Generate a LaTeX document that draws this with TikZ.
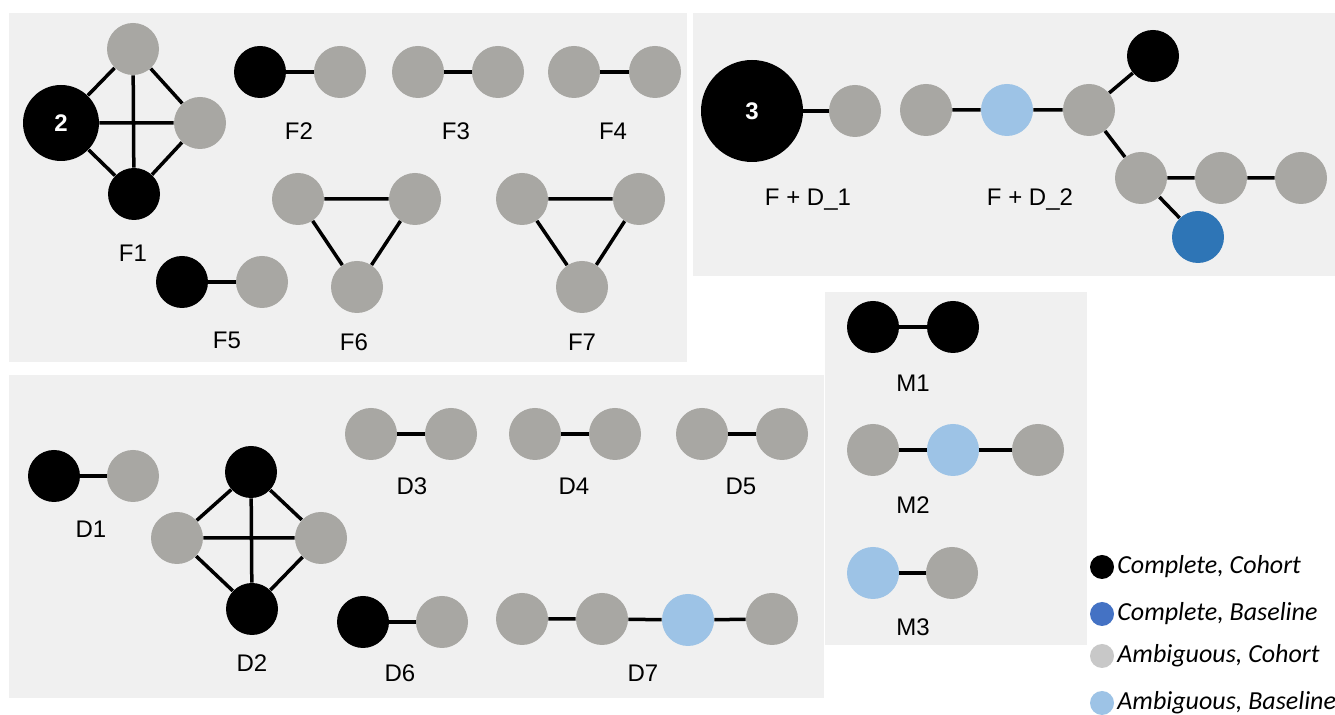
\documentclass[tikz,border=0pt]{standalone}
\usepackage{fontspec}
\setmainfont{Liberation Sans}
\newfontfamily\legfont{Carlito}
\definecolor{panelbg}{HTML}{F0F0F0}
\definecolor{ngray}{HTML}{A8A7A3}
\definecolor{lblue}{HTML}{9DC3E6}
\definecolor{dblue}{HTML}{2E75B6}
\definecolor{legblue}{HTML}{4472C4}
\definecolor{leggray}{HTML}{C8C8C8}
\begin{document}
\begin{tikzpicture}[x=0.5pt,y=-0.5pt,
  nd/.style={circle,minimum size=26pt,inner sep=0pt},
  blk/.style={nd,fill=black},
  gry/.style={nd,fill=ngray},
  lbl/.style={nd,fill=lblue},
  dbl/.style={nd,fill=dblue},
  lab/.style={font=\fontsize{12}{14}\selectfont,inner sep=0pt},
  num/.style={font=\fontsize{12}{14}\selectfont\bfseries,text=white},
  edge/.style={line width=1.75pt},
  panel/.style={fill=panelbg,draw=none},
  legdot/.style={circle,minimum size=12pt,inner sep=0pt},
  legtxt/.style={anchor=west,inner sep=0pt,font=\legfont\itshape\fontsize{13}{15}\selectfont}]
\useasboundingbox (0,0) rectangle (1335,715);
\fill[white] (0,0) rectangle (1335,715);
% panels
\fill[panel] (9,13) rectangle (687,362);
\fill[panel] (693,13) rectangle (1335,276);
\fill[panel] (9,375) rectangle (824,698);
\fill[panel] (825,292) rectangle (1087,645);

% ---------- F panel ----------
\node[blk,minimum size=38pt,num] (f1a) at (61,123) {2};
\node[gry] (f1b) at (133,49) {};
\node[gry] (f1c) at (200,123) {};
\node[blk] (f1d) at (134,194) {};
\draw[edge] (f1a)--(f1b) (f1a)--(f1c) (f1a)--(f1d) (f1b)--(f1c) (f1b)--(f1d) (f1c)--(f1d);
\node[lab] (lf1) at (133,253) {F1};

\node[blk] (f2a) at (260,72) {};
\node[gry] (f2b) at (340,72) {};
\draw[edge] (f2a)--(f2b);
\node[lab] (lf2) at (299,131) {F2};

\node[gry] (f3a) at (418,72) {};
\node[gry] (f3b) at (498,72) {};
\draw[edge] (f3a)--(f3b);
\node[lab] (lf3) at (456,131) {F3};

\node[gry] (f4a) at (574,72) {};
\node[gry] (f4b) at (655,72) {};
\draw[edge] (f4a)--(f4b);
\node[lab] (lf4) at (613,131) {F4};

\node[blk] (f5a) at (182,282) {};
\node[gry] (f5b) at (262,282) {};
\draw[edge] (f5a)--(f5b);
\node[lab] (lf5) at (227,340) {F5};

\node[gry] (f6a) at (298,199) {};
\node[gry] (f6b) at (415,199) {};
\node[gry] (f6c) at (357,287) {};
\draw[edge] (f6a)--(f6b) (f6a)--(f6c) (f6b)--(f6c);
\node[lab] (lf6) at (354,342) {F6};

\node[gry] (f7a) at (522,199) {};
\node[gry] (f7b) at (639,199) {};
\node[gry] (f7c) at (582,287) {};
\draw[edge] (f7a)--(f7b) (f7a)--(f7c) (f7b)--(f7c);
\node[lab] (lf7) at (582,342) {F7};

% ---------- F + D panel ----------
\node[blk,minimum size=51pt,num] (g1a) at (752,111) {3};
\node[gry] (g1b) at (855,111) {};
\draw[edge] (g1a)--(g1b);
\node[lab] (lg1) at (808,200) {F + D\_1};

\node[gry] (g2a) at (926,110) {};
\node[lbl] (g2b) at (1007,110) {};
\node[gry] (g2c) at (1089,110) {};
\node[blk] (g2d) at (1153,56) {};
\node[gry] (g2e) at (1141,178) {};
\node[gry] (g2f) at (1221,178) {};
\node[gry] (g2g) at (1301,178) {};
\node[dbl] (g2h) at (1198,237) {};
\draw[edge] (g2a)--(g2b) (g2b)--(g2c) (g2c)--(g2d) (g2c)--(g2e)
  (g2e)--(g2f) (g2f)--(g2g) (g2e)--(g2h);
\node[lab] (lg2) at (1030,200) {F + D\_2};

% ---------- D panel ----------
\node[blk] (d1a) at (54,476) {};
\node[gry] (d1b) at (133,476) {};
\draw[edge] (d1a)--(d1b);
\node[lab] (ld1) at (91,529) {D1};

\node[blk] (d2a) at (251,472) {};
\node[gry] (d2b) at (177,538) {};
\node[gry] (d2c) at (321,538) {};
\node[blk] (d2d) at (252,609) {};
\draw[edge] (d2a)--(d2b) (d2a)--(d2c) (d2a)--(d2d) (d2b)--(d2c) (d2b)--(d2d) (d2c)--(d2d);
\node[lab] (ld2) at (252,663) {D2};

\node[gry] (d3a) at (371,434) {};
\node[gry] (d3b) at (451,434) {};
\draw[edge] (d3a)--(d3b);
\node[lab] (ld3) at (412,486) {D3};

\node[gry] (d4a) at (535,434) {};
\node[gry] (d4b) at (615,434) {};
\draw[edge] (d4a)--(d4b);
\node[lab] (ld4) at (574,486) {D4};

\node[gry] (d5a) at (702,434) {};
\node[gry] (d5b) at (782,434) {};
\draw[edge] (d5a)--(d5b);
\node[lab] (ld5) at (741,486) {D5};

\node[blk] (d6a) at (363,622) {};
\node[gry] (d6b) at (442,622) {};
\draw[edge] (d6a)--(d6b);
\node[lab] (ld6) at (400,673) {D6};

\node[gry] (d7a) at (522,619) {};
\node[gry] (d7b) at (602,619) {};
\node[lbl] (d7c) at (688,620) {};
\node[gry] (d7d) at (772,619) {};
\draw[edge] (d7a)--(d7b) (d7b)--(d7c) (d7c)--(d7d);
\node[lab] (ld7) at (643,673) {D7};

% ---------- M panel ----------
\node[blk] (m1a) at (873,327) {};
\node[blk] (m1b) at (953,327) {};
\draw[edge] (m1a)--(m1b);
\node[lab] (lm1) at (913,383) {M1};

\node[gry] (m2a) at (873,450) {};
\node[lbl] (m2b) at (953,450) {};
\node[gry] (m2c) at (1038,450) {};
\draw[edge] (m2a)--(m2b) (m2b)--(m2c);
\node[lab] (lm2) at (913,505) {M2};

\node[lbl] (m3a) at (873,573) {};
\node[gry] (m3b) at (952,573) {};
\draw[edge] (m3a)--(m3b);
\node[lab] (lm3) at (913,627) {M3};

% ---------- legend ----------
\node[legdot,fill=black] (k1) at (1102,567) {};
\node[legtxt] (t1) at (1117,567) {Complete, Cohort};
\node[legdot,fill=legblue] (k2) at (1102,614) {};
\node[legtxt] (t2) at (1117,614) {Complete, Baseline};
\node[legdot,fill=leggray] (k3) at (1102,656) {};
\node[legtxt] (t3) at (1117,656) {Ambiguous, Cohort};
\node[legdot,fill=lblue] (k4) at (1102,703) {};
\node[legtxt] (t4) at (1117,703) {Ambiguous, Baseline};
\end{tikzpicture}
\end{document}
